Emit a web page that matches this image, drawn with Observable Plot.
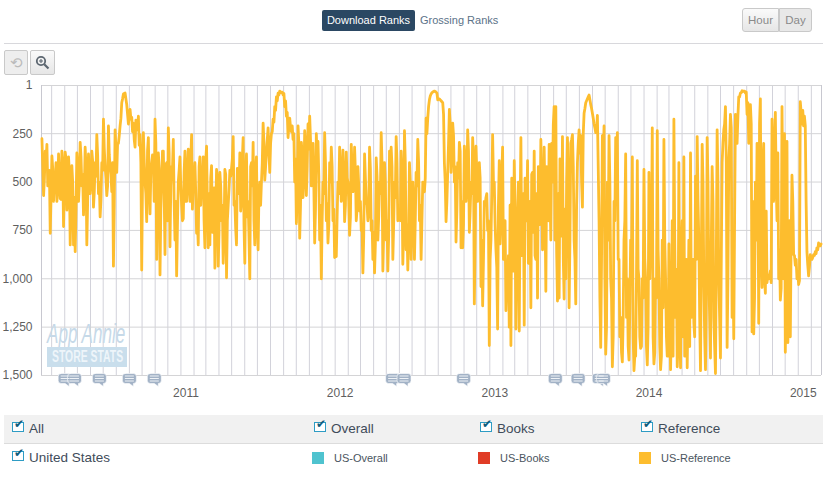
<!DOCTYPE html>
<html><head><meta charset="utf-8">
<script src="https://cdn.jsdelivr.net/npm/d3@7"></script>
<script src="https://cdn.jsdelivr.net/npm/@observablehq/plot@0.6"></script>
<style>
html,body{margin:0;padding:0;background:#fff}
body{width:825px;height:481px;position:relative;overflow:hidden;font-family:"Liberation Sans",Arial,sans-serif;color:#3c4a58}
.a{position:absolute;white-space:nowrap;box-sizing:border-box}
#chart{position:absolute;left:0;top:0}
#chart svg{display:block;background:transparent}
.btn{border:1px solid #c9c9c9;background:linear-gradient(#fafafa,#e6e6e6);color:#8a8a8a;text-align:center}
.cb{position:absolute;width:12px;height:10px;border:1.5px solid #2e9cc4;background:#fff;box-sizing:border-box}
.cb:after{content:"✔";position:absolute;left:1px;top:-6px;font:bold 12px "DejaVu Sans";color:#0f5c7c}
</style></head><body>
<div id="chart"></div>
<div id="ui"></div>
<script>
const ranksA = [276,570,340,305,500,765,365,600,480,600,355,585,340,730,345,645,370,825,415,825,860,350,600,295,520,670,320,825,355,560,340,630,400,255,560,680,400,175,420,570,210,420,550,935,230,450,300,210,90,45,40,100,200,125,165,195,320,200,160,255,955,245,500,705,270,665,400,380,175,900,350,980,500,340,875,400,220,835,420,280];
const coreA = [420,480,390,520,440,560,430,500,400,540,470,590,410,520,380,560,450,620,500,580,640,430,510,370,460,540,420,600,450,490,390,550,470,360,500,590,440,330,480,520,360,460,400,610,330,300,260,170,70,42,70,150,160,175,240,280,180,230,310,400,480,390,560,340,520,450,360,600,300,500,430,640,340,560,410,700,350,520,430,600];
const ranksB = [800,985,500,370,620,690,340,600,330,600,255,500,400,765,825,370,500,370,840,315,840,825,415,700,945,435,935,450,700,920,435,995,620,440,430,265,600,825,500,350,600,270,920,355,600,1000,400,295,825,370,850,500,500,195,490,350,220,450,250,175,110,60,40,30,35,50,110,160,270,170,240,280,500,715,210,790,295,580,235];
const coreB = [600,720,440,520,700,450,600,430,520,380,640,480,560,700,420,620,480,700,390,640,560,480,760,530,650,480,760,520,620,780,460,700,540,470,380,620,740,430,560,650,380,720,460,680,780,420,520,700,440,730,560,620,400,300,420,280,340,300,240,190,130,80,50,38,35,42,80,140,210,220,210,250,380,560,300,620,360,480,320];
const ranksC = [570,200,160,520,300,815,250,290,800,1000,500,245,700,815,400,320,700,890,885,500,320,600,335,705,345,500,775,305,550,320,700,420,650,750,970,355,600,700,320,750,900,970,375,800,500,245,960,400,800,960,340,320,900,500,265,700,650,340,925,235,850,955,400,900,500,900,450,280,700,900,500,550,170,170,75,45,35,30,35];
const coreC = [420,330,280,450,520,640,380,470,620,700,560,400,610,720,500,420,640,730,680,560,430,580,470,620,480,600,680,430,520,450,640,520,600,720,780,480,620,660,430,700,760,820,470,680,560,400,760,500,700,780,450,420,720,580,400,640,700,460,760,400,720,780,500,740,600,700,520,400,620,700,540,480,250,110,55,38,32,32,40];
const ranksD = [75,70,80,90,400,705,450,125,450,195,500,810,400,295,840,840,315,600,230,760,500,270,1130,315,600,400,1040,1140,600,580,750,1345,800,255,500,850,1260,390,700,320,800,1165,1000,1250,1345,600,390,1260,700,1270,270,600,1240,600,390,800,1150,450,340,900,1100,500,280,850,320,1065,500,305,800,500,110,110,1115,1100,400,265,1105,1000];
const coreD = [72,75,85,150,500,600,300,200,350,260,420,650,480,340,600,720,400,520,340,650,560,380,800,450,520,480,800,900,620,560,700,900,560,500,720,940,620,820,480,900,700,1000,880,620,480,960,640,900,500,680,880,560,480,700,920,600,460,760,880,560,420,720,480,820,620,420,700,560,300,200,800,860,560,380,780,900,640,500];
const ranksE = [270,1150,300,255,800,1130,400,230,260,630,145,90,70,50,100,145,200,245,155,700,1355,260,210,1390,500,260,1000,1455,600,270,245,900,1200,1430,800,355,1000,1420,800,370,1475,1400,390,1000,1360,1000,435,1000,1445,450,800,220,1440,1000,235,1000,1470,800,280,1000,1400,820,1470,700,175,1200,1455,400,1460,700,370,1000,1460,800,350,1000,1230,470];
const coreE = [500,800,280,420,900,620,300,350,500,250,120,80,60,75,120,170,220,240,420,1100,900,400,1000,1250,800,500,1100,1300,700,400,900,1300,1380,1200,700,1200,1350,1150,900,1300,1400,1000,950,1300,1350,1100,900,1350,1250,1000,800,1300,1380,1100,850,1350,1400,1150,800,1300,1400,1200,1250,1400,800,950,1350,1150,900,1300,1400,900,1150,1350,1200,900,1300,900];
const ranksF = [265,800,1475,305,1000,1470,270,1000,1410,420,1200,1490,230,1000,1410,400,230,110,1355,400,150,1200,1310,150,300,60,40,28,30,40,150,300,100,1275,1285,500,300,1230,70,1045,300,1075,1020,1000,960,175,600,140,700,1000,1110,110,1000,1380,290,1200,1300,465,875,930,1000,1030,85,200,210,210,860,985,875,900,875,860,840,815,830];
const coreF = [600,1200,900,500,1300,1100,500,1200,800,600,1350,900,500,1200,900,300,200,400,1000,300,220,900,700,220,160,60,38,32,30,35,90,220,200,600,1100,800,450,200,900,400,1000,650,980,990,1020,500,300,500,350,850,1050,600,250,900,1330,700,800,600,880,900,960,1010,140,130,160,600,930,940,900,890,880,870,850,825,820];
const peaks = [...ranksA,...ranksB,...ranksC,...ranksD,...ranksE,...ranksF];
const core = [...coreA,...coreB,...coreC,...coreD,...coreE,...coreF];
const ranks = peaks.flatMap((p,i)=>core[i]===undefined?[p]:[p,core[i]]);
const firstDay = new Date("2010-02-06"), lastDay = new Date("2015-02-24");
const rankTicks = [1,250,500,750,1000,1250,1500];
const yearTicks = ["2011-01-01","2012-01-01","2013-01-01","2014-01-01","2015-01-01"].map(d=>new Date(d));
const noteDays = ["2010-04-02","2010-04-24","2010-06-22","2010-09-01","2010-10-30","2012-05-16","2012-06-12","2012-10-31","2013-06-05","2013-07-29","2013-09-17","2013-09-27"].map(d=>new Date(d));
const stepMs = (lastDay-firstDay)/(ranks.length-1);
const series = ranks.map((rank,i)=>({date:new Date(+firstDay+i*stepMs),rank}));
const months = d3.utcMonths(new Date("2010-03-01"),new Date("2015-02-02"));
const bubble = {draw(c){c.moveTo(-5,-5);c.lineTo(4,-5);c.quadraticCurveTo(7,-5,7,-2);c.lineTo(7,2);c.quadraticCurveTo(7,5,4,5);c.lineTo(4,8);c.lineTo(0,5);c.lineTo(-4,5);c.quadraticCurveTo(-7,5,-7,2);c.lineTo(-7,-2);c.quadraticCurveTo(-7,-5,-4,-5);c.closePath();}};
const bubbleLines = {draw(c){[-2.5,0,2.5].forEach(y=>{c.moveTo(-4.5,y);c.lineTo(4.5,y);});}};
const plot = Plot.plot({
  width:825,height:410,marginTop:85,marginLeft:41,marginRight:4,marginBottom:35,
  style:{background:"transparent",fontFamily:"'Liberation Sans',Arial,sans-serif"},
  x:{type:"utc",domain:[new Date("2010-02-05"),new Date("2015-02-25")]},
  y:{domain:[1,1500],reverse:true},
  marks:[
    Plot.ruleX(months,{stroke:"#d2d2da",strokeWidth:1}),
    Plot.ruleY(rankTicks,{stroke:"#d4d4d6",strokeWidth:1}),
    Plot.ruleX([new Date("2010-02-05"),new Date("2015-02-25")],{stroke:"#c8c8d0",strokeWidth:1}),
    Plot.axisY({ticks:rankTicks,tickSize:0,tickPadding:9,tickFormat:d3.format(","),label:null,fontSize:12,color:"#5f5f5f"}),
    Plot.axisX({ticks:yearTicks,tickSize:0,tickPadding:13,tickFormat:d=>d3.utcFormat("%Y")(d),label:null,fontSize:12,color:"#5f5f5f",dx:5}),
    Plot.line(series,{x:"date",y:"rank",stroke:"#fdbd2e",strokeWidth:2.8,strokeLinejoin:"round"}),
    Plot.dot(noteDays,{x:d=>d,y:()=>1500,dy:3,symbol:()=>bubble,r:5,fill:"#a2b2c6",stroke:"#fff",strokeWidth:.6}),
    Plot.dot(noteDays,{x:d=>d,y:()=>1500,dy:3,symbol:()=>bubbleLines,r:5,fill:"none",stroke:"#eef2f6",strokeWidth:1})
  ]
});
document.getElementById("chart").appendChild(plot);

const ui=document.getElementById("ui");
function el(css,html,cls){const d=document.createElement("div");d.className="a "+(cls||"");d.style.cssText=css;d.innerHTML=html||"";ui.appendChild(d);return d;}
el("left:322px;top:10px;width:93px;height:21px;background:#2b4863;color:#fff;border-radius:2px;font-size:11px;line-height:21px;text-align:center","Download Ranks");
el("left:420px;top:10px;color:#5b7288;font-size:11px;line-height:21px","Grossing Ranks");
el("left:742px;top:8px;width:37px;height:24px;border-radius:3px 0 0 3px;font-size:11.5px;line-height:22px","Hour","btn");
el("left:779px;top:8px;width:33px;height:24px;border-radius:0 3px 3px 0;font-size:11.5px;line-height:22px;background:#e8e8e8","Day","btn");
el("left:4px;top:43px;width:819px;height:1px;background:#d8d8dc");
el("left:4px;top:50px;width:24px;height:25px;border-radius:2px;font-size:15px;line-height:23px;color:#bbb;background:#eee","⟲","btn");
el("left:30px;top:50px;width:25px;height:25px;border-radius:2px;padding-top:4px",'<svg width="15" height="15" viewBox="0 0 15 15"><circle cx="6" cy="6" r="4.2" fill="none" stroke="#5c6670" stroke-width="1.8"/><path d="M9.2 9.2L13.5 13.5" stroke="#5c6670" stroke-width="2.2"/><path d="M4 6H8M6 4V8" stroke="#5c6670" stroke-width="1.1"/></svg>',"btn");
el("left:47px;top:320px;width:80px;height:28px;overflow:visible;font-size:28px;line-height:28px;font-style:italic;color:#c6d9e8",'<span style="display:inline-block;transform-origin:0 50%;transform:scaleX(.61)">App Annie</span>');
el("left:47px;top:347px;width:80px;height:20px;background:#c9deec;color:#eef5fa;font-size:16px;line-height:20px;font-weight:bold;padding-left:5px",'<span style="display:inline-block;transform-origin:0 50%;transform:scaleX(.65)">STORE STATS</span>');
el("left:4px;top:415px;width:819px;height:29px;background:#f1f1f1;border-bottom:1px solid #dcdcdc");
[["All",12,29],["Overall",314,331],["Books",480,497],["Reference",641,658]].forEach(([t,cx,tx])=>{
  el(`left:${cx}px;top:422px;width:12px;height:10px;padding:0`,"<span class='cb' style='left:0;top:0'></span>");
  el(`left:${tx}px;top:420px;font-size:13.5px;line-height:17px;color:#3f4c5a`,t);
});
el("left:12px;top:451px;width:12px;height:10px;padding:0","<span class='cb' style='left:0;top:0'></span>");
el("left:29px;top:449px;font-size:13.5px;line-height:17px;color:#3f4c5a","United States");
[["US-Overall",312,334,"#4fc3cf"],["US-Books",478,500,"#e03c26"],["US-Reference",639,661,"#fdbd2e"]].forEach(([t,sx,tx,c])=>{
  el(`left:${sx}px;top:452px;width:12px;height:12px;background:${c}`);
  el(`left:${tx}px;top:451px;font-size:11px;line-height:15px;color:#4a5560`,t);
});
</script>
</body></html>
